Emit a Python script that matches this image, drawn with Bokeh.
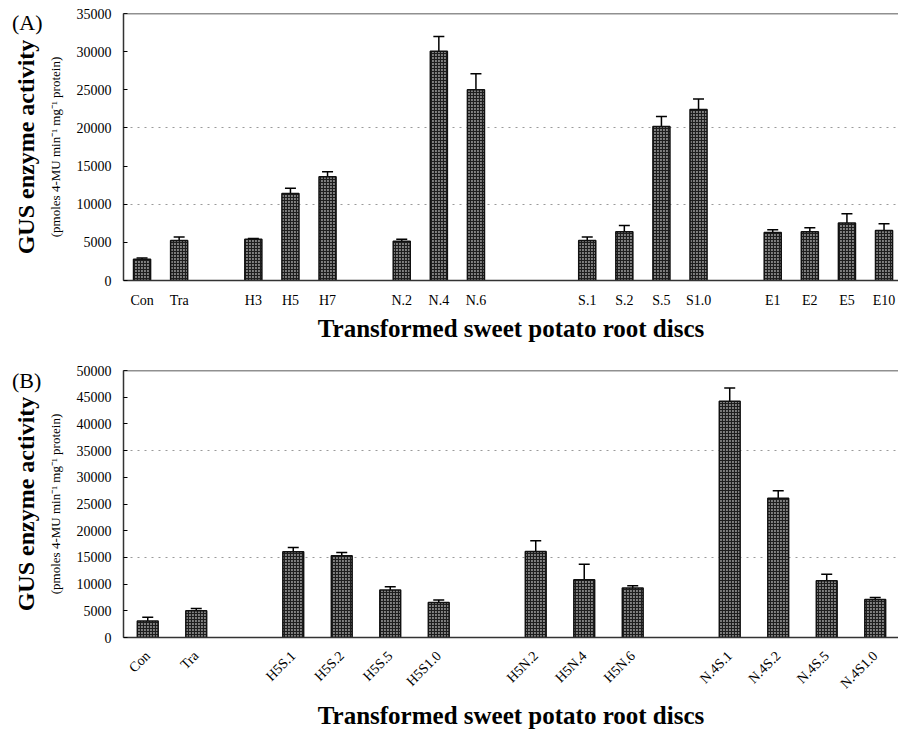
import math
from bokeh.plotting import figure
from bokeh.models import (ColumnDataSource, Whisker, TeeHead, FixedTicker, LinearAxis,
                          Range1d, Span, Div)
from bokeh.layouts import column
from bokeh.embed import file_html
from bokeh.resources import INLINE

# ---------------- data ----------------
A_labels = ["Con", "Tra", "H3", "H5", "H7", "N.2", "N.4", "N.6",
            "S.1", "S.2", "S.5", "S1.0", "E1", "E2", "E5", "E10"]
A_values = [2800, 5250, 5400, 11400, 13600, 5150, 30050, 25000,
            5250, 6400, 20200, 22400, 6300, 6400, 7550, 6550]
A_errors = [150, 450, 100, 700, 650, 250, 1950, 2100,
            450, 800, 1300, 1400, 350, 500, 1200, 900]
A_group_sizes = [2, 3, 3, 4, 4]
A_group_gaps = [1, 1, 2, 1]

B_labels = ["Con", "Tra", "H5S.1", "H5S.2", "H5S.5", "H5S1.0",
            "H5N.2", "H5N.4", "H5N.6", "N.4S.1", "N.4S.2", "N.4S.5", "N.4S1.0"]
B_values = [3100, 5000, 16050, 15300, 8900, 6550,
            16100, 10800, 9250, 44250, 26100, 10650, 7100]
B_errors = [700, 450, 800, 600, 600, 450,
            2000, 2900, 450, 2450, 1400, 1200, 400]
B_group_sizes = [2, 4, 3, 4]
B_group_gaps = [1, 1, 1]

A_yticks = [0, 5000, 10000, 15000, 20000, 25000, 30000, 35000]
B_yticks = [0, 5000, 10000, 15000, 20000, 25000, 30000, 35000, 40000, 45000, 50000]
A_grid = [10000, 20000]
B_grid = [15000, 35000]

Y_TITLE = "GUS enzyme activity"
Y_SUB = "(pmoles 4-MU min\u207b\u00b9 mg\u207b\u00b9 protein)"
X_TITLE = "Transformed sweet potato root discs"

SERIF = "Liberation Serif"


def slot_positions(sizes, gaps):
    pos, s = [], 0
    for i, n in enumerate(sizes):
        pos += list(range(s, s + n))
        s += n + (gaps[i] if i < len(gaps) else 0)
    return pos


def make_panel(labels, values, errors, sizes, gaps, yticks, grid, x_end, height,
               border_top, border_bottom, bar_width, x_label_standoff, x_title_standoff,
               rotate=False):
    xs = slot_positions(sizes, gaps)
    src = ColumnDataSource(dict(x=xs, top=values,
                                upper=[v + e for v, e in zip(values, errors)],
                                lower=[v - e for v, e in zip(values, errors)]))
    p = figure(width=898, height=height, output_backend="svg", toolbar_location=None,
               x_range=Range1d(-0.5, x_end), y_range=Range1d(0, yticks[-1]),
               min_border_left=123, min_border_right=0,
               min_border_top=border_top, min_border_bottom=border_bottom)
    p.outline_line_color = None
    p.background_fill_color = "white"
    p.border_fill_color = "white"

    p.vbar(x="x", top="top", width=bar_width, source=src,
           fill_color="#808080", line_color="#111111", line_width=1.5,
           hatch_pattern="+", hatch_color="#1e1e1e", hatch_scale=3.0, hatch_weight=1.2)

    w = Whisker(source=src, base="x", upper="upper", lower="lower",
                line_color="black", line_width=1.5,
                upper_head=TeeHead(size=11, line_color="black", line_width=1.5),
                lower_head=None)
    p.add_layout(w)

    # top border
    p.add_layout(Span(location=yticks[-1], dimension="width",
                      line_color="#222222", line_width=1.5))

    # x axis
    xa = p.xaxis[0]
    xa.ticker = FixedTicker(ticks=xs)
    xa.major_label_overrides = {x: l for x, l in zip(xs, labels)}
    xa.major_tick_out = 0
    xa.major_tick_in = 0
    xa.minor_tick_out = 0
    xa.major_label_standoff = x_label_standoff
    xa.major_label_text_font = SERIF
    xa.major_label_text_font_size = "14px"
    xa.major_label_text_color = "black"
    if rotate:
        xa.major_label_orientation = math.pi / 4
    xa.axis_line_color = "#333333"
    xa.axis_line_width = 1.5
    xa.axis_label = X_TITLE
    xa.axis_label_text_font = SERIF
    xa.axis_label_text_font_style = "bold"
    xa.axis_label_text_font_size = "25px"
    xa.axis_label_text_color = "black"
    xa.axis_label_standoff = x_title_standoff

    # y axis
    ya = p.yaxis[0]
    ya.ticker = FixedTicker(ticks=yticks)
    ya.major_tick_out = 0
    ya.major_tick_in = 4
    ya.minor_tick_out = 0
    ya.minor_tick_in = 0
    ya.major_label_standoff = 12
    ya.major_label_text_font = SERIF
    ya.major_label_text_font_size = "14px"
    ya.major_label_text_color = "black"
    ya.axis_line_color = "#333333"
    ya.axis_line_width = 1.5
    ya.axis_label = Y_SUB
    ya.axis_label_text_font = SERIF
    ya.axis_label_text_font_style = "normal"
    ya.axis_label_text_font_size = "13px"
    ya.axis_label_text_color = "black"
    ya.axis_label_standoff = 11

    outer = LinearAxis(ticker=FixedTicker(ticks=[]), axis_line_color=None,
                       major_tick_out=0, major_tick_in=0, minor_tick_out=0, minor_tick_in=0,
                       major_label_standoff=0, major_label_text_font_size="0px",
                       axis_label=Y_TITLE, axis_label_text_font=SERIF,
                       axis_label_text_font_style="bold", axis_label_text_font_size="24px",
                       axis_label_text_color="black", axis_label_standoff=6)
    p.add_layout(outer, "left")

    p.xgrid.visible = False
    p.ygrid.ticker = FixedTicker(ticks=grid)
    p.ygrid.grid_line_color = "#9a9a9a"
    p.ygrid.grid_line_dash = "2 5"
    p.ygrid.grid_line_width = 1
    return p


pA = make_panel(A_labels, A_values, A_errors, A_group_sizes, A_group_gaps,
                A_yticks, A_grid, x_end=20.39, height=350, border_top=13,
                border_bottom=70, bar_width=0.46, x_label_standoff=12,
                x_title_standoff=4)
pB = make_panel(B_labels, B_values, B_errors, B_group_sizes, B_group_gaps,
                B_yticks, B_grid, x_end=15.48, height=381, border_top=20,
                border_bottom=94, bar_width=0.43, x_label_standoff=16,
                x_title_standoff=2, rotate=True)


def letter(text, left, top):
    return Div(text=text, styles={"position": "absolute", "left": f"{left}px",
                                  "top": f"{top}px", "font-family": SERIF,
                                  "font-size": "22px", "line-height": "1",
                                  "color": "black", "z-index": "5",
                                  "margin": "0", "padding": "0"})


layout = column(pA, pB, letter("(A)", 12, 12), letter("(B)", 12, 370))
open("out.html", "w").write(file_html(layout, INLINE))
